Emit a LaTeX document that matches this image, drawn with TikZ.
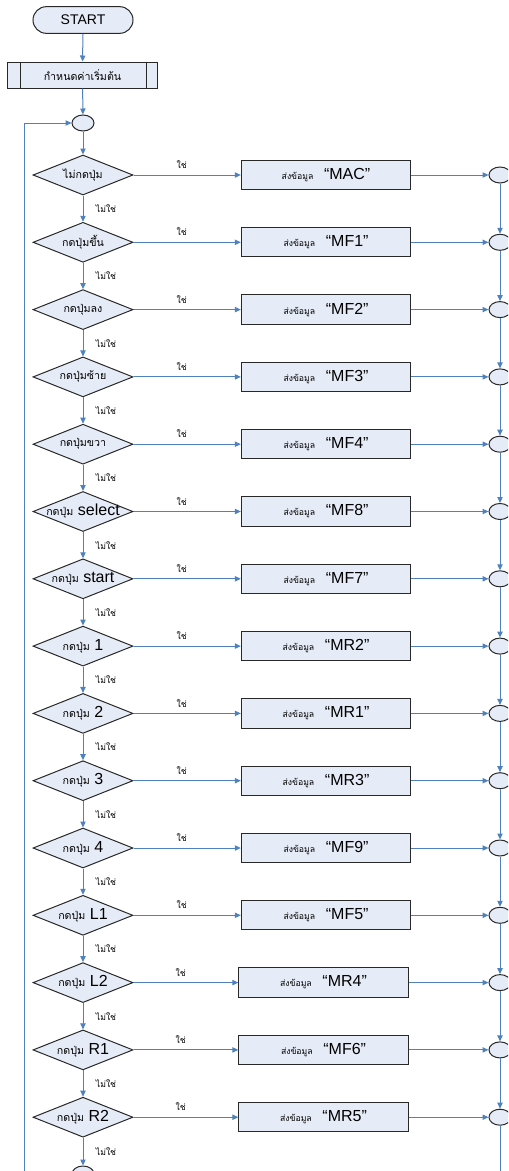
\documentclass[tikz,border=0pt]{standalone}
\usepackage{fontspec}
\setmainfont{Liberation Sans}
\newfontfamily\thaifont[Script=Thai]{Loma}
\usetikzlibrary{shapes.geometric,arrows.meta}

\definecolor{boxfill}{RGB}{230,236,247}
\definecolor{flowblue}{RGB}{79,129,189}
\definecolor{boxline}{RGB}{40,40,40}

\newcommand{\thtxt}[1]{{\thaifont\fontsize{8}{9}\selectfont #1}}
\newcommand{\thsmall}[1]{{\thaifont\fontsize{6.5}{8}\selectfont #1}}
\newcommand{\lattxt}[1]{{\fontsize{10.5}{12}\selectfont #1}}
\newcommand{\btntxt}[1]{{\fontsize{12}{14}\selectfont #1}}

\begin{document}
\begin{tikzpicture}[x=0.75pt,y=-0.75pt,
  blk/.style={draw=boxline,fill=boxfill,line width=0.75pt},
  cond/.style={blk,diamond,aspect=2.5,minimum width=75pt,minimum height=30pt,inner sep=0pt},
  sendbox/.style={blk,rectangle,minimum width=127pt,minimum height=22pt,inner sep=0pt},
  joint/.style={blk,ellipse,minimum width=16.5pt,minimum height=12pt,inner sep=0pt},
  flow/.style={draw=flowblue,line width=0.75pt,-{Triangle[length=4.5pt,width=4pt]}},
  yes/.style={above=1pt,pos=0.45},
  no/.style={right=6pt,pos=0.5}]

\useasboundingbox (0,0) rectangle (508,1171);
\clip (0,0) rectangle (508,1171);

% start
\node[blk,rectangle,rounded corners=10pt,minimum width=75pt,minimum height=20pt] (start) at (83,20) {\lattxt{START}};
\node[blk,rectangle,minimum width=112pt,minimum height=19.5pt] (init) at (82.5,75) {\thtxt{กำหนดค่าเริ่มต้น}};
\draw[boxline,line width=0.75pt] ([xshift=9.5pt]init.north west) -- ([xshift=9.5pt]init.south west);
\draw[boxline,line width=0.75pt] ([xshift=-8.5pt]init.north east) -- ([xshift=-8.5pt]init.south east);
\node[joint] (c0) at (83,123) {};

\draw[flow] (start) -- (init);
\draw[flow] (init) -- (c0);

% one row per button
\foreach \i/\key/\btn/\code/\bx in {1/ไม่กดปุ่ม//MAC/326, 2/กดปุ่มขึ้น//MF1/326,
    3/กดปุ่มลง//MF2/326, 4/กดปุ่มซ้าย//MF3/326, 5/กดปุ่มขวา//MF4/326,
    6/กดปุ่ม/{\ select}/MF8/326, 7/กดปุ่ม/{\ start}/MF7/326, 8/กดปุ่ม/{\ 1}/MR2/326,
    9/กดปุ่ม/{\ 2}/MR1/326, 10/กดปุ่ม/{\ 3}/MR3/326, 11/กดปุ่ม/{\ 4}/MF9/326,
    12/กดปุ่ม/{\ L1}/MF5/326, 13/กดปุ่ม/{\ L2}/MR4/323.5, 14/กดปุ่ม/{\ R1}/MF6/323.5,
    15/กดปุ่ม/{\ R2}/MR5/323.5}{
  \node[cond] (d\i) at (83,107.7+67.3*\i) {\makebox[0pt]{\thtxt{\key}\btntxt{\btn}}};
  \node[sendbox] (b\i) at (\bx,107.7+67.3*\i) {\thsmall{ส่งข้อมูล}\hspace{8pt}\btntxt{“\code”}};
  \node[joint] (c\i) at (500,107.7+67.3*\i) {};
  \draw[flow] (d\i) -- node[yes] {\thsmall{ใช่}} (b\i);
  \draw[flow] (b\i) -- (c\i);
}

\foreach \i [evaluate=\i as \j using int(\i+1)] in {1,...,14}{
  \draw[flow] (d\i) -- node[no] {\thsmall{ไม่ใช่}} (d\j);
  \draw[flow] (c\i) -- (c\j);
}

\draw[flow] (c0) -- (d1);

% bottom and loop back
\node[joint] (cbot) at (83,1174) {};
\draw[flow] (d15) -- node[no] {\thsmall{ไม่ใช่}} (cbot);
\draw[flow] (c15.south) |- (cbot.east);
\coordinate (lp) at (24,1195);
\draw[flow] (cbot.south) |- (lp) |- (c0.west);

\end{tikzpicture}
\end{document}
